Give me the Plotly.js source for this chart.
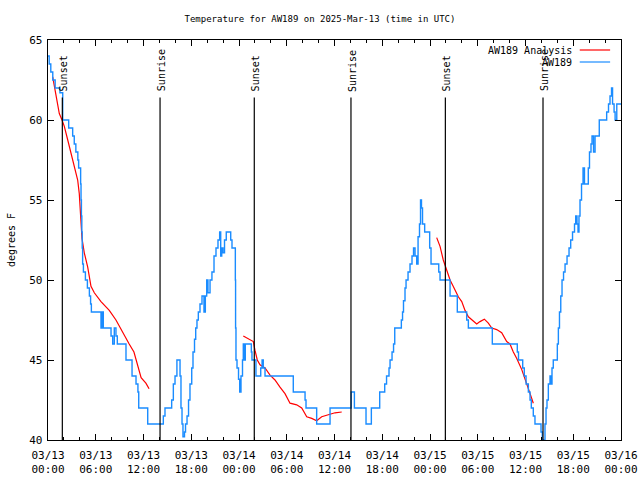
<!DOCTYPE html>
<html>
<head>
<meta charset="utf-8">
<script src="https://cdn.plot.ly/plotly-3.0.1.min.js"></script>
<style>html,body{margin:0;padding:0;background:#fff;}#chart{width:640px;height:480px;}</style>
</head>
<body>
<div id="chart"></div>
<script>
// Hours since 03/13 00:00 UTC
const obsHours = [0,0.15,0.35,0.6,0.9,1.5,1.85,2.6,3.1,3.3,3.5,3.75,3.85,4.1,4.15,4.2,4.25,4.3,4.35,4.45,4.7,4.95,5.2,5.35,5.45,6.66,6.8,6.95,7.92,8.13,8.33,8.54,8.71,9.8,10.56,11.06,11.3,11.4,12.53,14.49,14.7,15.54,15.75,15.96,16.2,16.59,16.71,16.84,16.96,17.15,17.28,17.47,17.66,17.84,18.06,18.22,18.41,18.56,18.72,18.89,19.1,19.35,19.6,19.77,19.94,20.1,20.36,20.6,20.86,21.11,21.36,21.57,21.7,21.83,21.99,22.18,22.4,22.96,23.12,23.54,23.57,23.62,23.75,23.94,24.09,24.25,24.44,24.54,24.67,24.79,25.55,25.63,26.13,26.73,26.9,27.05,27.27,30.82,32.3,32.42,33.76,35.44,38.1,38.5,39.96,40.63,41.68,42.31,42.54,42.85,42.98,43.23,43.42,43.57,44.4,44.55,44.67,44.86,44.99,45.24,45.49,45.74,45.93,46.12,46.33,46.5,46.68,46.81,46.93,47.06,47.33,47.96,48.13,49.1,49.26,50.52,51.43,52.61,52.82,55.83,58.97,59.12,59.65,59.85,60.07,60.36,60.57,60.73,60.98,61.19,61.95,62.11,62.45,62.58,62.7,62.87,63.08,63.2,63.33,63.49,64,64.13,64.27,64.43,64.59,64.78,64.97,65.22,65.47,65.68,65.91,66.16,66.31,66.47,66.6,66.72,66.85,67.04,67.23,67.41,67.89,68.04,68.23,68.36,68.55,68.74,69.27,70.2,70.43,70.62,70.81,70.94,71.13,71.26,71.47,72];
const obsTemps = [64,63.5,63,62.5,62,61.7,60,59.5,59,58.5,58,57.5,57,56,55,54,53,52,51,50.5,50,49.5,49,48.5,48,47,48,47,46.5,46,47,46.5,46,45,44,43.5,43,42,41,41.5,42,42.5,43.5,44,45,44,42,41,40.2,40.5,41,41.5,42.5,43.5,44.5,45.5,46.3,47,47.5,48,48.5,49,48,49,50,49.2,50,50.5,51.5,52,52.5,53,51.5,52,51.7,52.5,53,52.5,52,50,47,45,44.5,43.8,43,44,45,46,45,46,45.5,45,44,44.5,45,44.5,44,43,42.5,42,41,42,43,42,41,42,43,43.5,44,44.5,45,45.5,46,47,47.5,48,48.7,49.5,50,50.5,51,51.5,52,51.5,51,52.7,53.5,55,54.5,53.5,53,52,51,50.5,50,49,48,47.5,47,46,45.5,45,44.5,44,43.5,43,42.5,42,41.5,41,40.5,40,41,42,42.5,43.5,44,43.5,44.5,45,46,47,48,49,50,50.5,51,51.5,52,52.5,53,53.5,54,53.5,53,54,55,56,57,56,57,58,58.5,59,58,59,60,60.5,61,61.5,62,61,60.5,60,61,61];

const anaHours = [0.59,1.42,1.76,2.05,2.48,2.89,3.30,3.73,3.93,4.06,4.27,4.56,4.99,5.40,5.82,6.66,7.70,8.54,9.39,10.2,10.8,11.3,11.7,12.3,12.7,null,
  24.54,25.38,25.80,26.01,26.30,26.64,27.27,27.90,28.52,29.15,29.78,30.41,31.25,31.88,32.51,33.14,33.76,34.39,35.02,36.06,36.91,null,
  48.84,49.26,49.67,50.01,50.52,50.93,51.56,51.99,52.40,52.82,53.87,54.28,54.83,55.33,55.76,56.38,57.01,57.64,58.05,58.47,58.90,59.53,59.94,60.36,60.78,60.98];
const anaTemps = [62.7,60.4,60.0,59.6,58.75,57.9,57.1,56.25,55.4,54.1,52.6,51.7,50.8,49.6,49.2,48.65,48.1,47.5,46.7,46.0,45.5,44.6,43.9,43.55,43.2,null,
  46.5,46.3,46.15,45.6,45.0,44.7,44.5,44.05,43.75,43.3,42.9,42.3,42.2,42.0,41.45,41.35,41.2,41.45,41.55,41.7,41.75,null,
  52.65,52.1,51.25,50.8,50.0,49.6,48.95,48.65,48.1,47.7,47.25,47.4,47.55,47.3,47.0,46.9,46.7,46.15,46.0,45.5,45.1,44.4,43.85,43.2,42.6,42.3];

const eventHours = [1.8,14.08,25.92,38.07,49.93,62.2];
const eventLabels = ["Sunset","Sunrise","Sunset","Sunrise","Sunset","Sunrise"];

const tickHours = [0,6,12,18,24,30,36,42,48,54,60,66,72];
const tickLabels = ["03/13<br>00:00","03/13<br>06:00","03/13<br>12:00","03/13<br>18:00","03/14<br>00:00","03/14<br>06:00","03/14<br>12:00","03/14<br>18:00","03/15<br>00:00","03/15<br>06:00","03/15<br>12:00","03/15<br>18:00","03/16<br>00:00"];

const seriesNames = ["AW189 Analysis","AW189"];
const seriesColors = ["#ff0000","#1a8cff"];

const FONT = "DejaVu Sans Mono, Liberation Mono, monospace";

const traces = [
  {x: anaHours, y: anaTemps, type: "scatter", mode: "lines", name: seriesNames[0],
   line: {color: seriesColors[0], width: 1.2}, connectgaps: false, showlegend: false},
  {x: obsHours, y: obsTemps, type: "scatter", mode: "lines", name: seriesNames[1],
   line: {color: seriesColors[1], width: 1.4, shape: "hv"}, showlegend: false}
];

const shapes = [];
const annotations = [];
eventHours.forEach((h, i) => {
  shapes.push({type: "line", xref: "x", yref: "y", x0: h, x1: h, y0: 40, y1: 61.4,
    line: {color: "black", width: 1.2}});
  annotations.push({x: h, y: 61.65, xref: "x", yref: "y", text: eventLabels[i],
    textangle: -90, showarrow: false, xanchor: "center", yanchor: "bottom", xshift: 1.5,
    font: {family: FONT, size: 10, color: "black"}});
});

// manual legend (text left of line sample, right aligned)
const legY = [0.975, 0.945];
seriesNames.forEach((n, i) => {
  annotations.push({x: 0.918, y: legY[i], xref: "paper", yref: "paper", text: n,
    showarrow: false, xanchor: "right", yanchor: "middle",
    font: {family: FONT, size: 10, color: "black"}});
  shapes.push({type: "line", xref: "paper", yref: "paper", x0: 0.928, x1: 0.981,
    y0: legY[i], y1: legY[i], line: {color: seriesColors[i], width: 1.2}});
});

const layout = {
  width: 640, height: 480,
  margin: {l: 48, r: 19, t: 40, b: 40},
  paper_bgcolor: "white", plot_bgcolor: "white",
  font: {family: FONT, size: 10, color: "black"},
  title: {text: "Temperature for AW189 on 2025-Mar-13 (time in UTC)", x: 0.5, xref: "container",
    y: 0.96, yanchor: "middle", font: {family: FONT, size: 9, color: "black"}},
  xaxis: {range: [0, 72], tickmode: "array", tickvals: tickHours, ticktext: tickLabels,
    ticks: "inside", ticklen: 6, tickwidth: 1, tickcolor: "black",
    showline: true, linecolor: "black", linewidth: 1.3, mirror: "ticks",
    showgrid: false, zeroline: false, ticklabelstandoff: 4,
    minor: {tickmode: "linear", tick0: 0, dtick: 2, ticks: "inside", ticklen: 3, tickcolor: "black", showgrid: false},
    tickfont: {family: FONT, size: 11, color: "black"}},
  yaxis: {range: [40, 65], tickmode: "linear", tick0: 40, dtick: 5,
    ticks: "inside", ticklen: 6, tickwidth: 1, tickcolor: "black",
    showline: true, linecolor: "black", linewidth: 1.3, mirror: "ticks",
    showgrid: false, zeroline: false, ticklabelstandoff: 2,
    title: {text: "degrees F", standoff: 11, font: {family: FONT, size: 10, color: "black"}},
    tickfont: {family: FONT, size: 11, color: "black"}},
  shapes: shapes,
  annotations: annotations,
  showlegend: false
};

Plotly.newPlot("chart", traces, layout, {staticPlot: true, displayModeBar: false});
</script>
</body>
</html>
